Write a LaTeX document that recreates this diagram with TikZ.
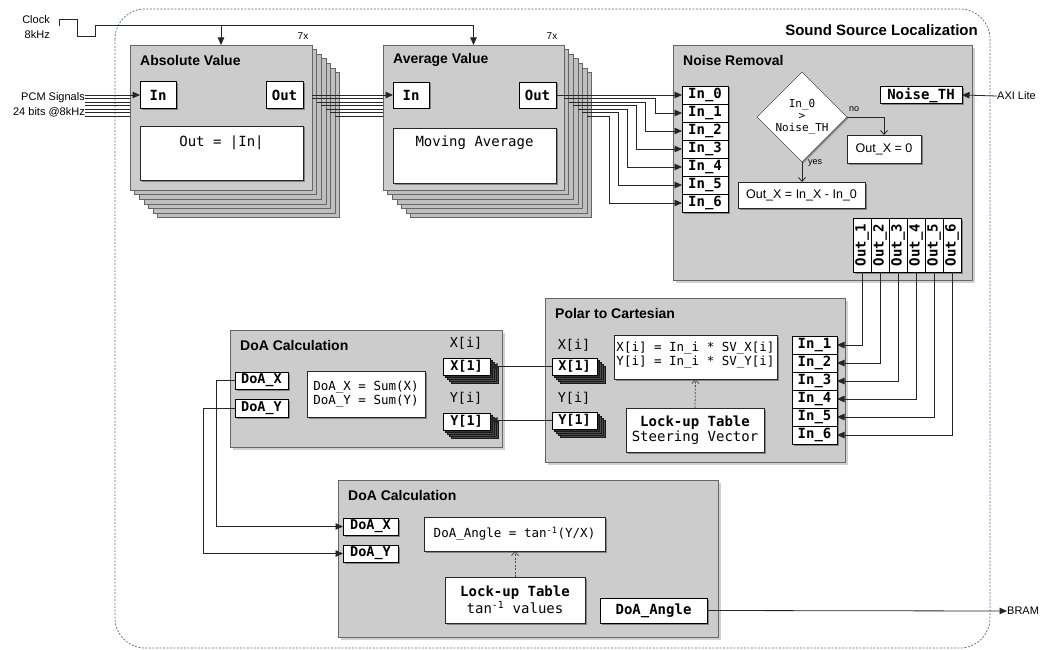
\documentclass[tikz,border=0pt]{standalone}
\usepackage{fontspec}
\setmainfont{Liberation Sans}
\newfontfamily\monof{DejaVu Sans Mono}
\usetikzlibrary{arrows.meta,shapes.geometric,shadows}
\newcommand{\fsz}[1]{\fontsize{#1}{#1}\selectfont}
\begin{document}
\begin{tikzpicture}[x=1pt,y=-1pt,
  blk/.style={fill=black!20,draw=black!60,line width=0.8pt,inner sep=0pt,outer sep=0pt},
  blksh/.style={blk,drop shadow={shadow xshift=3pt,shadow yshift=-3pt,fill=black!40,opacity=0.45}},
  layer/.style={fill=black!25,draw=black!60,line width=0.6pt},
  slayer/.style={fill=black!70,draw=black!90,line width=0.5pt},
  port/.style={draw=black,fill=white,line width=0.8pt,inner sep=0pt,outer sep=0pt,
    font=\monof\bfseries\fsz{14},
    drop shadow={shadow xshift=1.5pt,shadow yshift=-1.5pt,fill=black,opacity=0.35}},
  wbox/.style={draw=black!85,fill=white,line width=0.8pt,inner sep=0pt,outer sep=0pt,
    drop shadow={shadow xshift=1.5pt,shadow yshift=-1.5pt,fill=black,opacity=0.35}},
  ttl/.style={font=\bfseries\fsz{14},anchor=west,inner sep=0pt},
  lbl/.style={font=\fsz{11},inner sep=0pt},
  mtxt/.style={font=\monof\fsz{13.5},inner sep=0pt},
  conn/.style={draw=black!85,line width=0.8pt},
  tip/.style={-{Triangle[length=7.5pt,width=6.5pt]}},
  otip/.style={-{Straight Barb[length=4pt,width=7pt]}},
  dot/.style={draw=black!70,line width=0.8pt,dash pattern=on 2pt off 1.5pt}
]
\useasboundingbox (0,0) rectangle (1052,650);

% outer dashed region
\draw[draw={rgb,255:red,90;green,105;blue,125},line width=0.7pt,dash pattern=on 2pt off 1.5pt,rounded corners=30pt] (115,9) rectangle (990,648);
\node[font=\bfseries\fsz{15},anchor=east,inner sep=0pt] (sslt) at (978,30) {Sound Source Localization};

% ---------- Absolute Value block (stacked) ----------
\foreach \k in {6,...,1}
  \draw[layer] ({130+4.6*\k},{45+4.6*\k}) rectangle +(182,145);
\node[blk,minimum width=182,minimum height=145] (absf) at (221,117.5) {};
\node[ttl] (abst) at (140,60) {Absolute Value};
\node[port,minimum width=36,minimum height=27] (absin) at (158,95) {In};
\node[port,minimum width=37,minimum height=27] (absout) at (284.5,95) {Out};
\node[wbox,minimum width=163,minimum height=54] (absbig) at (221.5,153) {};
\node[mtxt,font=\monof\fsz{14}] (abstx) at (221.5,143) {Out = |In|};
\node[lbl,font=\fsz{10}] (abs7) at (303,36) {7x};

% ---------- Average Value block (stacked) ----------
\foreach \k in {6,...,1}
  \draw[layer] ({383+4.6*\k},{45+4.6*\k}) rectangle +(181,145);
\node[blk,minimum width=181,minimum height=145] (avgf) at (473.5,117.5) {};
\node[ttl] (avgt) at (393,60) {Average Value};
\node[port,minimum width=36,minimum height=26] (avgin) at (411,95) {In};
\node[port,minimum width=37,minimum height=26] (avgout) at (537.5,95) {Out};
\node[wbox,minimum width=163,minimum height=55] (avgbig) at (474.5,155.5) {};
\node[mtxt,font=\monof\fsz{14}] (avgtx) at (474.5,143) {Moving Average};
\node[lbl,font=\fsz{10}] (avg7) at (552,36) {7x};

% ---------- Clock ----------
\node[lbl,anchor=east] (clkl) at (50,20) {Clock};
\node[lbl,anchor=east] (clkf) at (50,35) {8kHz};
\draw[conn] (59,26) -- (59,19) -- (77,19) -- (77,36) -- (95,36) -- (95,25);
\coordinate (clk) at (95,25);
\draw[conn,tip] (clk) -| (avgf.north);
\draw[conn,tip] (clk -| absf.north) -- (absf.north);

% ---------- PCM inputs ----------
\node[lbl,anchor=east] (pcm1) at (85,98) {PCM Signals};
\node[lbl,anchor=east] (pcm2) at (85,112) {24 bits @8kHz};
\draw[conn,tip] (85,95) -- (absin.west);
\foreach \k in {1,...,6}
  \draw[conn] (85,{95+3.5*\k}) -- (130,{95+3.5*\k});

% abs -> avg
\draw[conn,tip] (absf.east |- absin.east) -- (avgin.west);
\foreach \k in {1,...,6}
  \draw[conn] ({312+4.6*(\k-1)},{95+3.5*\k}) -- (383,{95+3.5*\k});

% ---------- Noise Removal ----------
\node[blksh,minimum width=299,minimum height=235] (nrb) at (822.5,162.5) {};
\node[ttl] (nrt) at (683,60) {Noise Removal};
\foreach \k in {0,...,6}
  \node[port,minimum width=46,minimum height=18] (nin\k) at (705,{95+18*\k}) {In\_\k};
\node[draw=black!85,fill=white,diamond,aspect=1,minimum width=90,minimum height=90,inner sep=0pt,
  font=\monof\fsz{11},align=center,drop shadow={shadow xshift=1.5pt,shadow yshift=-1.5pt,fill=black,opacity=0.3}] (dia) at (802,117) {In\_0\\[1pt]>\\[1pt]Noise\_TH};
\node[wbox,minimum width=74,minimum height=28,font=\fsz{12.5}] (o0) at (884,149) {Out\_X = 0};
\node[wbox,minimum width=127,minimum height=26,font=\fsz{12.5}] (ox) at (801.5,195) {Out\_X = In\_X - In\_0};
\node[port,minimum width=82,minimum height=17] (nth) at (921,95) {Noise\_TH};
\node[lbl,font=\fsz{9},anchor=west] (nol) at (849,109) {no};
\node[lbl,font=\fsz{9},anchor=west] (yesl) at (808,163) {yes};
\draw[conn,otip] (dia.east) -| (o0.north);
\draw[conn,otip] (dia.south) -- (ox.north -| dia.south);
\node[lbl,anchor=west] (axi) at (997,96) {AXI Lite};
\draw[conn,tip] (axi.west) -- (nth.east);
\foreach \k in {1,...,6}
  \node[port,rotate=90,minimum width=54,minimum height=18] (nout\k) at ({862+18*(\k-1)},245) {Out\_\k};

% avg -> noise
\draw[conn,tip] (avgout.east) -- (nin0.west);
\foreach \k in {1,...,6}
  \draw[conn,tip] ({564+4.6*(\k-1)},{95+3.5*\k}) -- ({655-9.2*(\k-1)},{95+3.5*\k}) |- (nin\k.west);

% ---------- Polar to Cartesian ----------
\node[blksh,minimum width=300,minimum height=164] (pcb) at (695,380) {};
\node[ttl] (pct) at (555,313) {Polar to Cartesian};
\foreach \k in {1,...,6}
  \node[port,minimum width=45,minimum height=18] (pin\k) at (814.5,{345+18*(\k-1)}) {In\_\k};
\node[mtxt] (pxl) at (574,345) {X[i]};
\node[mtxt] (pyl) at (574,398) {Y[i]};
\foreach \k in {4,...,1}{
  \draw[slayer] ({552+2*\k},{358+2*\k}) rectangle +(45,17);
  \draw[slayer] ({552+2*\k},{412+2*\k}) rectangle +(45,17);
}
\node[port,drop shadow={opacity=0},minimum width=45,minimum height=17,font=\monof\bfseries\fsz{13.5}] (px1) at (574.5,366.5) {X[1]};
\node[port,drop shadow={opacity=0},minimum width=45,minimum height=17,font=\monof\bfseries\fsz{13.5}] (py1) at (574.5,420.5) {Y[1]};
\node[wbox,minimum width=163,minimum height=44] (pform) at (695.5,357) {};
\node[mtxt,font=\monof\fsz{12.5},align=left] (pformt) at (695.5,355) {X[i] = In\_i * SV\_X[i]\\[1pt]Y[i] = In\_i * SV\_Y[i]};
\node[wbox,minimum width=138,minimum height=44,align=center,font=\monof\fsz{14}] (plut) at (695,430) {\textbf{Lock-up Table}\\[1pt]Steering Vector};
\draw[dot,otip] (plut.north) -- (pform.south);
\foreach \k in {1,...,6}
  \draw[conn,tip] (nout\k.west) |- (pin\k.east);

% ---------- DoA Calculation 1 ----------
\node[blksh,minimum width=272,minimum height=117] (d1b) at (366,388.5) {};
\node[ttl] (d1t) at (240,345) {DoA Calculation};
\node[mtxt] (dxl) at (466,343) {X[i]};
\node[mtxt] (dyl) at (466,398) {Y[i]};
\foreach \k in {4,...,1}{
  \draw[slayer] ({443+2*\k},{358+2*\k}) rectangle +(47,17);
  \draw[slayer] ({443+2*\k},{413+2*\k}) rectangle +(47,17);
}
\node[port,drop shadow={opacity=0},minimum width=47,minimum height=17,font=\monof\bfseries\fsz{13.5}] (dx1) at (466.5,366.5) {X[1]};
\node[port,drop shadow={opacity=0},minimum width=47,minimum height=17,font=\monof\bfseries\fsz{13.5}] (dy1) at (466.5,421.5) {Y[1]};
\node[port,minimum width=53,minimum height=17,font=\monof\bfseries\fsz{13.5}] (ddx) at (261.5,380.5) {DoA\_X};
\node[port,minimum width=53,minimum height=18,font=\monof\bfseries\fsz{13.5}] (ddy) at (261.5,408) {DoA\_Y};
\node[wbox,minimum width=118,minimum height=46] (dform) at (366,394) {};
\node[mtxt,font=\monof\fsz{12.5},align=left] (dformt) at (366,394) {DoA\_X = Sum(X)\\[1pt]DoA\_Y = Sum(Y)};
\draw[conn,tip] (px1.west) -- (dx1.east);
\draw[conn,tip] (py1.west) -- (dy1.east |- py1.west);

% ---------- DoA Calculation 2 ----------
\node[blksh,minimum width=380,minimum height=157] (d2b) at (528,558.5) {};
\node[ttl] (d2t) at (348,495) {DoA Calculation};
\node[port,minimum width=55,minimum height=17,font=\monof\bfseries\fsz{13.5}] (edx) at (370.5,526.5) {DoA\_X};
\node[port,minimum width=55,minimum height=17,font=\monof\bfseries\fsz{13.5}] (edy) at (370.5,553.5) {DoA\_Y};
\node[wbox,minimum width=181,minimum height=34,font=\monof\fsz{12.5}] (eform) at (514.5,534) {DoA\_Angle = tan\textsuperscript{-1}(Y/X)};
\node[wbox,minimum width=140,minimum height=46,align=center,font=\monof\fsz{14}] (elut) at (515,600) {\textbf{Lock-up Table}\\[1pt]tan\textsuperscript{-1} values};
\node[port,minimum width=107,minimum height=25] (eang) at (653.5,610.5) {DoA\_Angle};
\draw[dot,otip] (elut.north) -- (eform.south -| elut.north);
\draw[conn,tip] (ddx.west) -- ++(-19,0) |- (edx.west);
\draw[conn,tip] (ddy.west) -- ++(-32,0) |- (edy.west);
\node[lbl,anchor=west] (bram) at (1007,611) {BRAM};
\draw[conn,tip] (eang.east) -- (bram.west);
\end{tikzpicture}
\end{document}
